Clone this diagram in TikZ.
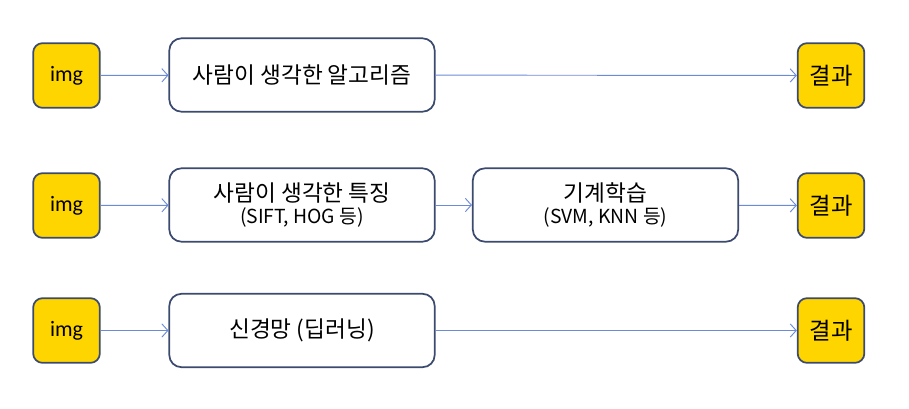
\documentclass[tikz,border=0pt]{standalone}
\usepackage{fontspec}
\setmainfont{Noto Sans CJK KR}
\newfontfamily\latinfont{Carlito}
\usetikzlibrary{positioning,arrows.meta}
\definecolor{boxline}{HTML}{3B4A6E}
\definecolor{imgfill}{HTML}{FFD500}
\definecolor{arrline}{HTML}{6C8BD6}
\newcommand{\subsize}{\fontsize{14.5}{16}\selectfont}
\begin{document}
\begin{tikzpicture}[
    x=0.75pt, y=-0.75pt,
    small/.style={draw=boxline, line width=1.3pt, fill=imgfill, rounded corners=7pt,
      minimum width=50pt, minimum height=48.5pt, inner sep=0pt},
    big/.style={draw=boxline, line width=1.3pt, fill=white, rounded corners=9pt,
      minimum width=199pt, minimum height=55pt, align=center, inner sep=0pt, font=\fontsize{17}{20}\selectfont},
    arr/.style={-{Straight Barb[length=4.5pt,width=10pt]}, draw=arrline, line width=0.7pt}
]
\useasboundingbox (0,0) rectangle (909,408);

% row 1
\node[small, font=\latinfont\fontsize{16.5}{18}\selectfont] (img1) at (66.5,75.5) {img};
\node[big] (algo) at (302,75) {사람이 생각한 알고리즘};
\node[small, font=\fontsize{17.5}{20}\selectfont] (res1) at (831,75.5) {결과};

% row 2
\node[small, font=\latinfont\fontsize{16.5}{18}\selectfont] (img2) at (66.5,205.5) {img};
\node[big] (feat) at (302,205) {사람이 생각한 특징\\[-3pt]{\subsize (SIFT, HOG 등)}};
\node[big] (ml) at (605.5,205) {기계학습\\[-3pt]{\subsize (SVM, KNN 등)}};
\node[small, font=\fontsize{17.5}{20}\selectfont] (res2) at (831,205.5) {결과};

% row 3
\node[small, font=\latinfont\fontsize{16.5}{18}\selectfont] (img3) at (66.5,330.5) {img};
\node[big] (dl) at (302,330.5) {신경망 (딥러닝)};
\node[small, font=\fontsize{17.5}{20}\selectfont] (res3) at (831,330.5) {결과};

\draw[arr] (img1) -- (algo);
\draw[arr] (algo) -- (res1);
\draw[arr] (img2) -- (feat);
\draw[arr] (feat) -- (ml);
\draw[arr] (ml) -- (res2);
\draw[arr] (img3) -- (dl);
\draw[arr] (dl) -- (res3);
\end{tikzpicture}
\end{document}
